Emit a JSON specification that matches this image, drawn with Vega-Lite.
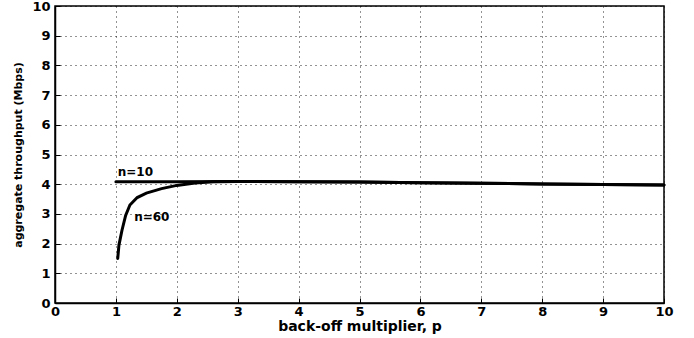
{
  "$schema": "https://vega.github.io/schema/vega-lite/v6.json",
  "width": 609,
  "height": 297,
  "autosize": {"type": "none"},
  "padding": {"left": 55, "top": 6, "right": 30, "bottom": 35},
  "background": "white",
  "config": {
    "view": {"stroke": "black", "strokeWidth": 1.5},
    "font": "DejaVu Sans",
    "axis": {
      "grid": true,
      "gridColor": "black",
      "gridDash": [1, 4],
      "gridOpacity": 0.85,
      "gridWidth": 1,
      "domainColor": "black",
      "domainWidth": 1.5,
      "tickColor": "black",
      "tickSize": -5,
      "labelColor": "black",
      "labelFont": "DejaVu Sans",
      "labelFontWeight": "bold",
      "labelFontSize": 13,
      "labelOverlap": false,
      "labelFlush": false,
      "format": "d",
      "titleFont": "DejaVu Sans",
      "titleFontWeight": "bold",
      "titleColor": "black"
    }
  },
  "datasets": {
    "curves": [
      {"p": 1.0, "t": 4.08, "n": "n=10"},
      {"p": 1.5, "t": 4.08, "n": "n=10"},
      {"p": 2.0, "t": 4.08, "n": "n=10"},
      {"p": 3.0, "t": 4.09, "n": "n=10"},
      {"p": 4.0, "t": 4.08, "n": "n=10"},
      {"p": 5.0, "t": 4.07, "n": "n=10"},
      {"p": 6.0, "t": 4.05, "n": "n=10"},
      {"p": 7.0, "t": 4.03, "n": "n=10"},
      {"p": 8.0, "t": 4.01, "n": "n=10"},
      {"p": 9.0, "t": 3.99, "n": "n=10"},
      {"p": 10.0, "t": 3.97, "n": "n=10"},
      {"p": 1.03, "t": 1.5, "n": "n=60"},
      {"p": 1.05, "t": 1.95, "n": "n=60"},
      {"p": 1.1, "t": 2.45, "n": "n=60"},
      {"p": 1.16, "t": 2.95, "n": "n=60"},
      {"p": 1.23, "t": 3.3, "n": "n=60"},
      {"p": 1.35, "t": 3.55, "n": "n=60"},
      {"p": 1.5, "t": 3.7, "n": "n=60"},
      {"p": 1.75, "t": 3.85, "n": "n=60"},
      {"p": 2.0, "t": 3.96, "n": "n=60"},
      {"p": 2.3, "t": 4.04, "n": "n=60"},
      {"p": 2.6, "t": 4.08, "n": "n=60"},
      {"p": 3.0, "t": 4.09, "n": "n=60"},
      {"p": 4.0, "t": 4.08, "n": "n=60"},
      {"p": 5.0, "t": 4.07, "n": "n=60"},
      {"p": 6.0, "t": 4.05, "n": "n=60"},
      {"p": 7.0, "t": 4.03, "n": "n=60"},
      {"p": 8.0, "t": 4.01, "n": "n=60"},
      {"p": 9.0, "t": 3.99, "n": "n=60"},
      {"p": 10.0, "t": 3.97, "n": "n=60"}
    ],
    "labels": [
      {"p": 1.03, "t": 4.4, "label": "n=10"},
      {"p": 1.3, "t": 2.9, "label": "n=60"}
    ]
  },
  "encoding": {
    "x": {
      "field": "p", "type": "quantitative",
      "scale": {"domain": [0, 10], "nice": false},
      "axis": {"values": [0,1,2,3,4,5,6,7,8,9,10], "title": "back-off multiplier, p", "titleFontSize": 14, "titlePadding": 1, "labelPadding": 7}
    },
    "y": {
      "field": "t", "type": "quantitative",
      "scale": {"domain": [0, 10], "nice": false},
      "axis": {"values": [0,1,2,3,4,5,6,7,8,9,10], "title": "aggregate throughput (Mbps)", "titleFontSize": 11, "titlePadding": 8, "labelPadding": 10}
    }
  },
  "layer": [
    {
      "data": {"name": "curves"},
      "mark": {"type": "line", "color": "black", "strokeWidth": 3, "strokeCap": "round"},
      "encoding": {
        "detail": {"field": "n"}
      }
    },
    {
      "data": {"name": "labels"},
      "mark": {"type": "text", "align": "left", "baseline": "middle", "font": "DejaVu Sans", "fontWeight": "bold", "fontSize": 12, "color": "black"},
      "encoding": {
        "text": {"field": "label"}
      }
    }
  ]
}
